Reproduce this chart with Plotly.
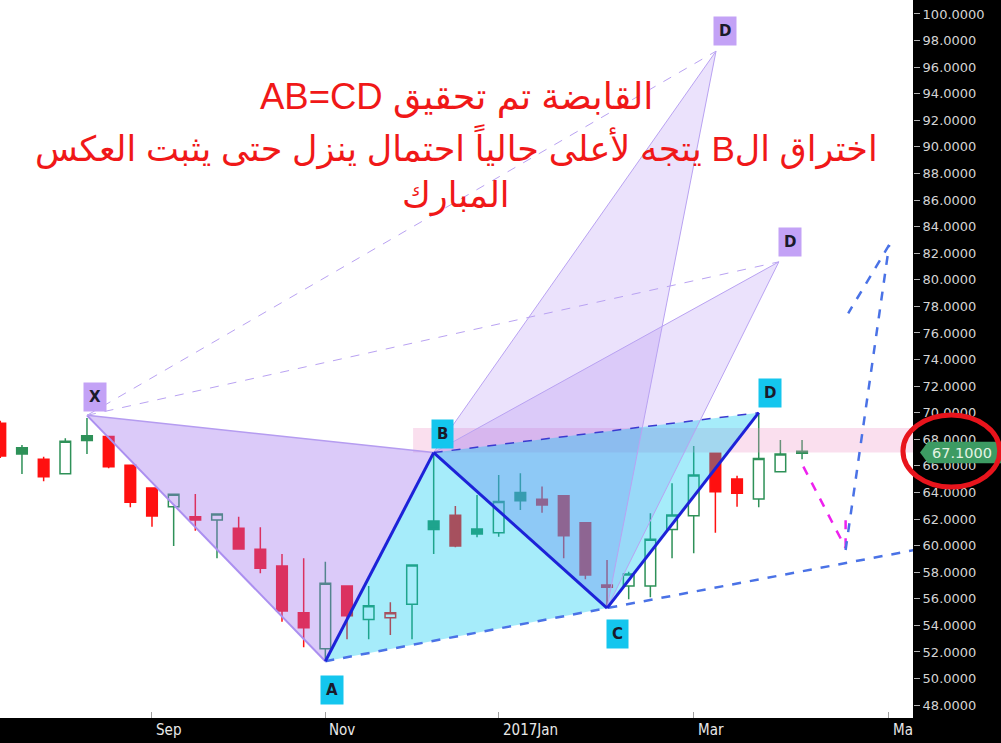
import plotly.graph_objects as go

# ---------------- data ----------------
# weekly candles, index 0..37
opens  = [69.20, 67.37, 66.49, 65.41, 68.27, 68.20, 66.04, 64.33, 62.93, 62.18,
          61.93, 61.30, 59.72, 58.46, 54.95, 52.24, 56.96, 54.45, 54.57, 55.58,
          61.85, 62.28, 61.25, 60.97, 63.99, 63.48, 63.76, 61.72, 57.04, 56.96,
          56.96, 61.22, 62.25, 66.94, 65.01, 63.51, 65.56, 66.95]
highs  = [69.40, 67.57, 66.69, 68.07, 69.60, 68.25, 66.10, 64.40, 63.90, 63.88,
          62.40, 62.18, 61.38, 59.37, 59.04, 58.79, 57.00, 56.96, 55.73, 58.60,
          66.97, 62.98, 63.81, 65.31, 65.44, 64.44, 63.80, 61.75, 58.92, 58.04,
          62.43, 64.69, 67.49, 66.96, 65.26, 69.95, 67.95, 67.95]
lows   = [66.60, 65.39, 64.84, 65.41, 66.89, 65.82, 62.88, 61.42, 59.97, 61.12,
          59.04, 59.70, 57.92, 54.28, 52.35, 51.32, 52.95, 52.95, 53.27, 52.95,
          59.37, 59.87, 60.62, 60.67, 62.68, 62.48, 59.04, 57.46, 55.30, 55.96,
          56.11, 59.04, 59.42, 60.97, 62.93, 62.88, 65.56, 66.49]
closes = [66.74, 66.90, 65.19, 67.85, 67.90, 65.94, 63.26, 62.23, 63.86, 61.93,
          62.38, 59.74, 58.29, 55.08, 53.82, 57.16, 54.73, 55.48, 54.95, 58.54,
          61.22, 59.97, 60.87, 63.31, 63.38, 63.06, 60.75, 57.79, 56.86, 57.86,
          60.47, 62.30, 65.31, 64.06, 63.94, 66.56, 66.89, 67.10]
close_before_first = 69.50
last_price = 67.10

# x-axis month ticks (candle index) and labels
month_ticks  = [7, 15, 23, 32, 41]
month_labels = ["Sep", "Nov", "2017Jan", "Mar", "Ma"]

# harmonic / AB=CD pattern points (candle index, price)
X_pt  = (4, 69.8)
A_pt  = (15, 51.3)
B_pt  = (20, 67.0)
C_pt  = (28, 55.3)
D_pt  = (35, 70.0)
D1_pt = (33.03, 97.2)   # projected D (pattern 1)
D2_pt = (35.93, 81.35)  # projected D (pattern 2)

# resistance band
band_start = 19.05
band_low, band_high = 67.0, 68.85

# hand-drawn projection paths
pink_path_x = [37.06, 39.01]
pink_path_y = [65.94, 59.82]
pink_tick_x = [39.01, 39.01]
pink_tick_y = [61.9, 59.7]
blue_path_x = [39.01, 41.02, 39.13]
blue_path_y = [59.67, 82.62, 77.48]

title_lines = ["القابضة تم تحقيق AB=CD",
               "اختراق الB يتجه لأعلى حالياً احتمال ينزل حتى يثبت العكس",
               "المبارك"]

# ---------------- figure ----------------
GREEN = "#2e9158"
RED = "#ff1010"

prev = [close_before_first] + closes[:-1]
up_idx = [i for i in range(len(closes)) if closes[i] >= prev[i]]
dn_idx = [i for i in range(len(closes)) if closes[i] < prev[i]]

fig = go.Figure()
for idx, col in ((up_idx, GREEN), (dn_idx, RED)):
    fig.add_trace(go.Candlestick(
        x=idx,
        open=[opens[i] for i in idx], high=[highs[i] for i in idx],
        low=[lows[i] for i in idx], close=[closes[i] for i in idx],
        increasing=dict(line=dict(color=col, width=1.5), fillcolor="white"),
        decreasing=dict(line=dict(color=col, width=1.5), fillcolor=col),
        whiskerwidth=0, showlegend=False, hoverinfo="skip"))

shapes = []


def poly(pts, fill, op):
    d = "M " + " L ".join(f"{x},{y}" for x, y in pts) + " Z"
    shapes.append(dict(type="path", path=d, xref="x", yref="y", fillcolor=fill,
                       opacity=op, line=dict(width=0), layer="above"))


def seg(p, q, color, width, dash="solid"):
    shapes.append(dict(type="line", x0=p[0], y0=p[1], x1=q[0], y1=q[1], xref="x", yref="y",
                       line=dict(color=color, width=width, dash=dash), layer="above"))


# pink resistance band
shapes.append(dict(type="rect", x0=band_start, x1=60, y0=band_low, y1=band_high,
                   xref="x", yref="y", fillcolor="rgb(240,150,200)", opacity=0.3,
                   line=dict(width=0), layer="above"))

PURP = "rgb(155,110,240)"
for Dp in (D1_pt, D2_pt):
    poly([X_pt, A_pt, B_pt], PURP, 0.2)
    poly([B_pt, C_pt, Dp], PURP, 0.2)

CYAN = "rgb(0,200,240)"
poly([A_pt, B_pt, C_pt], CYAN, 0.35)
poly([B_pt, C_pt, D_pt], CYAN, 0.35)

LPURP = "#b9a2f2"
seg(X_pt, A_pt, "#ab8ff0", 2)
seg(X_pt, B_pt, "#b59cf0", 1.5)
for Dp in (D1_pt, D2_pt):
    seg(X_pt, Dp, LPURP, 1, "dash")
    seg(B_pt, Dp, LPURP, 1)
    seg(C_pt, Dp, LPURP, 1)

# A-C trend line extended to the right
slope = (C_pt[1] - A_pt[1]) / (C_pt[0] - A_pt[0])
x_end = 43
seg(A_pt, (x_end, A_pt[1] + slope * (x_end - A_pt[0])), "#4a72e6", 2.5, "dash")
seg(B_pt, D_pt, "#3a3ad0", 1.5, "dash")
seg(A_pt, B_pt, "#1d22d8", 3)
seg(B_pt, C_pt, "#1d22d8", 3)
seg(C_pt, D_pt, "#1d22d8", 3)

# projections
seg((pink_path_x[0], pink_path_y[0]), (pink_path_x[1], pink_path_y[1]), "#ee22ee", 2.5, "dash")
seg((pink_tick_x[0], pink_tick_y[0]), (pink_tick_x[1], pink_tick_y[1]), "#ee22ee", 2.5, "dash")
for k in range(len(blue_path_x) - 1):
    seg((blue_path_x[k], blue_path_y[k]), (blue_path_x[k + 1], blue_path_y[k + 1]),
        "#4a72e6", 2.5, "dash")

# price tag on the axis
h = 0.81
tag = (f"M 1.0077,{last_price - 0.1} L 1.0164,{last_price - 0.1 + h} L 1.1,{last_price - 0.1 + h} "
       f"L 1.1,{last_price - 0.1 - h} L 1.0164,{last_price - 0.1 - h} Z")
shapes.append(dict(type="path", path=tag, xref="paper", yref="y", fillcolor="#3d9b63",
                   line=dict(width=0), layer="above"))
shapes.append(dict(type="circle", xref="paper", yref="y", x0=0.989, x1=1.095,
                   y0=64.41, y1=69.83, line=dict(color="#e8141c", width=5), layer="above"))

annotations = []
annotations.append(dict(text=f"{last_price:.4f}", xref="paper", yref="y", x=1.054,
                        y=last_price - 0.1, xanchor="center", yanchor="middle", showarrow=False,
                        font=dict(family="DejaVu Sans", size=14.5, color="#e4f4e4")))

for tx, lab in zip(month_ticks, month_labels):
    annotations.append(dict(text=lab, xref="x", yref="paper", x=tx, y=0, yshift=-12,
                            xanchor="left", yanchor="middle", xshift=2, showarrow=False,
                            font=dict(family="Liberation Sans Narrow, DejaVu Sans Condensed", size=15,
                                      color="#e8e8e8")))


def label(pt, text, bg, dx, dy):
    annotations.append(dict(text=f"<b>{text}</b>", xref="x", yref="y", x=pt[0], y=pt[1],
                            xshift=dx, yshift=dy, showarrow=False, bgcolor=bg, borderpad=5,
                            font=dict(family="DejaVu Sans", size=15, color="#1a1a2a")))


PLAB = "#c3a2f6"
CLAB = "#14c6ee"
label(X_pt, "X", PLAB, 8, 18)
label(D1_pt, "D", PLAB, 9, 20)
label(D2_pt, "D", PLAB, 11, 20)
label(A_pt, "A", CLAB, 7, -29)
label(B_pt, "B", CLAB, 9, 19)
label(C_pt, "C", CLAB, 10, -26)
label(D_pt, "D", CLAB, 11, 20)

RLE, PDF = "\u202b", "\u202c"
line_y = [97, 147, 195]
line_size = [36.5, 35, 35]
for t, yy, sz in zip(title_lines, line_y, line_size):
    annotations.append(dict(text=RLE + t + PDF, xref="paper", yref="paper", x=456 / 913,
                            y=1 - yy / 718, xanchor="center", yanchor="middle", showarrow=False,
                            font=dict(family="Liberation Sans, DejaVu Sans", size=sz,
                                      color="#f01818")))

fig.update_layout(
    width=1001, height=743,
    margin=dict(l=0, r=88, t=0, b=25),
    paper_bgcolor="black", plot_bgcolor="white",
    shapes=shapes, annotations=annotations,
    showlegend=False,
    xaxis=dict(range=[-0.014, 42.12], rangeslider=dict(visible=False), showgrid=False,
               zeroline=False, tickmode="array", tickvals=month_ticks, ticktext=[""] * 5,
               ticks="inside", ticklen=6, tickcolor="#a0a0a0", showline=False),
    yaxis=dict(range=[47.03, 101.05], side="right", showgrid=False, zeroline=False,
               tickmode="linear", tick0=48, dtick=2, tickformat=".4f",
               ticks="outside", ticklen=6, tickcolor="#b0b0b0",
               tickfont=dict(family="DejaVu Sans", size=13, color="#d4d4d4")),
)

fig.write_html("out.html", config={"displayModeBar": False},
               post_script="document.body.style.margin='0px';")
